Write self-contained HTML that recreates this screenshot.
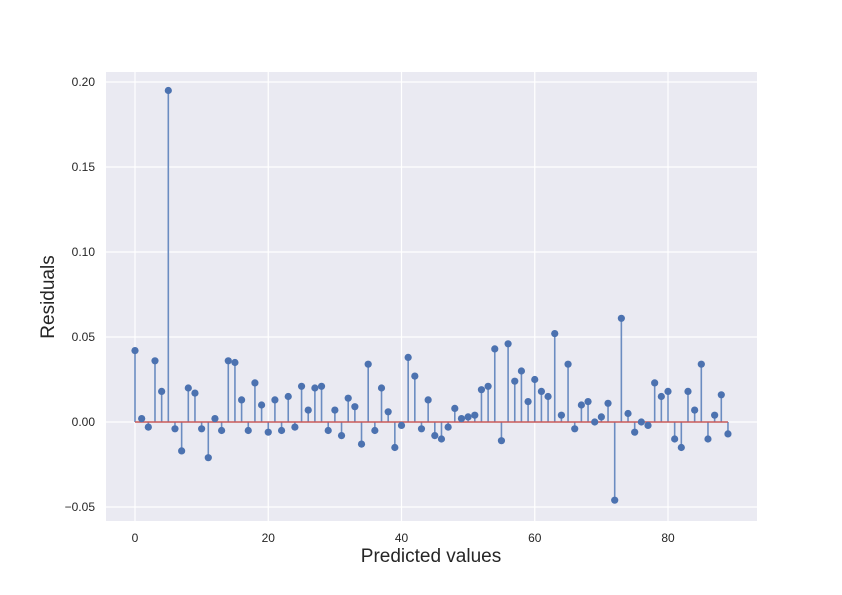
<!DOCTYPE html>
<html><head><meta charset="utf-8"><style>
body{margin:0;background:#fff}
svg{display:block;font-family:"Liberation Sans","DejaVu Sans",sans-serif}
</style></head><body>
<svg id="chart" width="842" height="595" xmlns="http://www.w3.org/2000/svg">
<rect x="106" y="72" width="651" height="449" fill="#eaeaf2"/>
<g id="grid"></g><g id="ticks"></g><g id="marks"></g>
<text x="431" y="562" font-size="19" text-anchor="middle" fill="#262626">Predicted values</text>
<text transform="translate(54,297) rotate(-90)" font-size="19" text-anchor="middle" fill="#262626">Residuals</text>
</svg>
<script>
const residuals=[0.042,0.002,-0.003,0.036,0.018,0.195,-0.004,-0.017,0.020,0.017,-0.004,-0.021,0.002,-0.005,0.036,0.035,0.013,-0.005,0.023,0.010,-0.006,0.013,-0.005,0.015,-0.003,0.021,0.007,0.020,0.021,-0.005,0.007,-0.008,0.014,0.009,-0.013,0.034,-0.005,0.020,0.006,-0.015,-0.002,0.038,0.027,-0.004,0.013,-0.008,-0.010,-0.003,0.008,0.002,0.003,0.004,0.019,0.021,0.043,-0.011,0.046,0.024,0.030,0.012,0.025,0.018,0.015,0.052,0.004,0.034,-0.004,0.010,0.012,0.000,0.003,0.011,-0.046,0.061,0.005,-0.006,0.000,-0.002,0.023,0.015,0.018,-0.010,-0.015,0.018,0.007,0.034,-0.010,0.004,0.016,-0.007];
const xTicks=[0,20,40,60,80];
const yTicks=[-0.05,0,0.05,0.10,0.15,0.20];
const yTickLabels=["\u22120.05","0.00","0.05","0.10","0.15","0.20"];
const NS="http://www.w3.org/2000/svg";
const X=v=>135+v*6.6625, Y=v=>422-v*1700;
function mk(tag,attrs,parent){const e=document.createElementNS(NS,tag);for(const k in attrs)e.setAttribute(k,attrs[k]);parent.appendChild(e);return e;}
const grid=document.getElementById('grid'),ticks=document.getElementById('ticks'),marks=document.getElementById('marks');
xTicks.forEach(t=>{
 const l=mk('line',{x1:X(t),x2:X(t),y1:72,y2:521,stroke:'#fff','stroke-width':1.2},grid);
 
 
 const tx=mk('text',{x:X(t),y:542,'font-size':12,'text-anchor':'middle',fill:'#262626'},ticks);
 tx.textContent=t;
 
 
});
yTicks.forEach((t,i)=>{
 const l=mk('line',{x1:106,x2:757,y1:Y(t),y2:Y(t),stroke:'#fff','stroke-width':1.2},grid);
 
 
 const tx=mk('text',{x:95,y:Y(t)+4,'font-size':12,'text-anchor':'end',fill:'#262626'},ticks);
 tx.textContent=yTickLabels[i];
 
 
});
residuals.forEach((v,i)=>{
 const s=mk('line',{x1:X(i),x2:X(i),y1:Y(0),y2:Y(v),stroke:'#6b8cc1','stroke-width':1.6},marks);
 
 
});
const base=mk('line',{x1:X(0),x2:X(residuals.length-1),y1:Y(0),y2:Y(0),stroke:'#c85a5a','stroke-width':1.5},marks);


residuals.forEach((v,i)=>{
 const c=mk('circle',{cx:X(i),cy:Y(v),r:3.6,fill:'#4c72b0'},marks);
 
 
});
</script>
</body></html>
